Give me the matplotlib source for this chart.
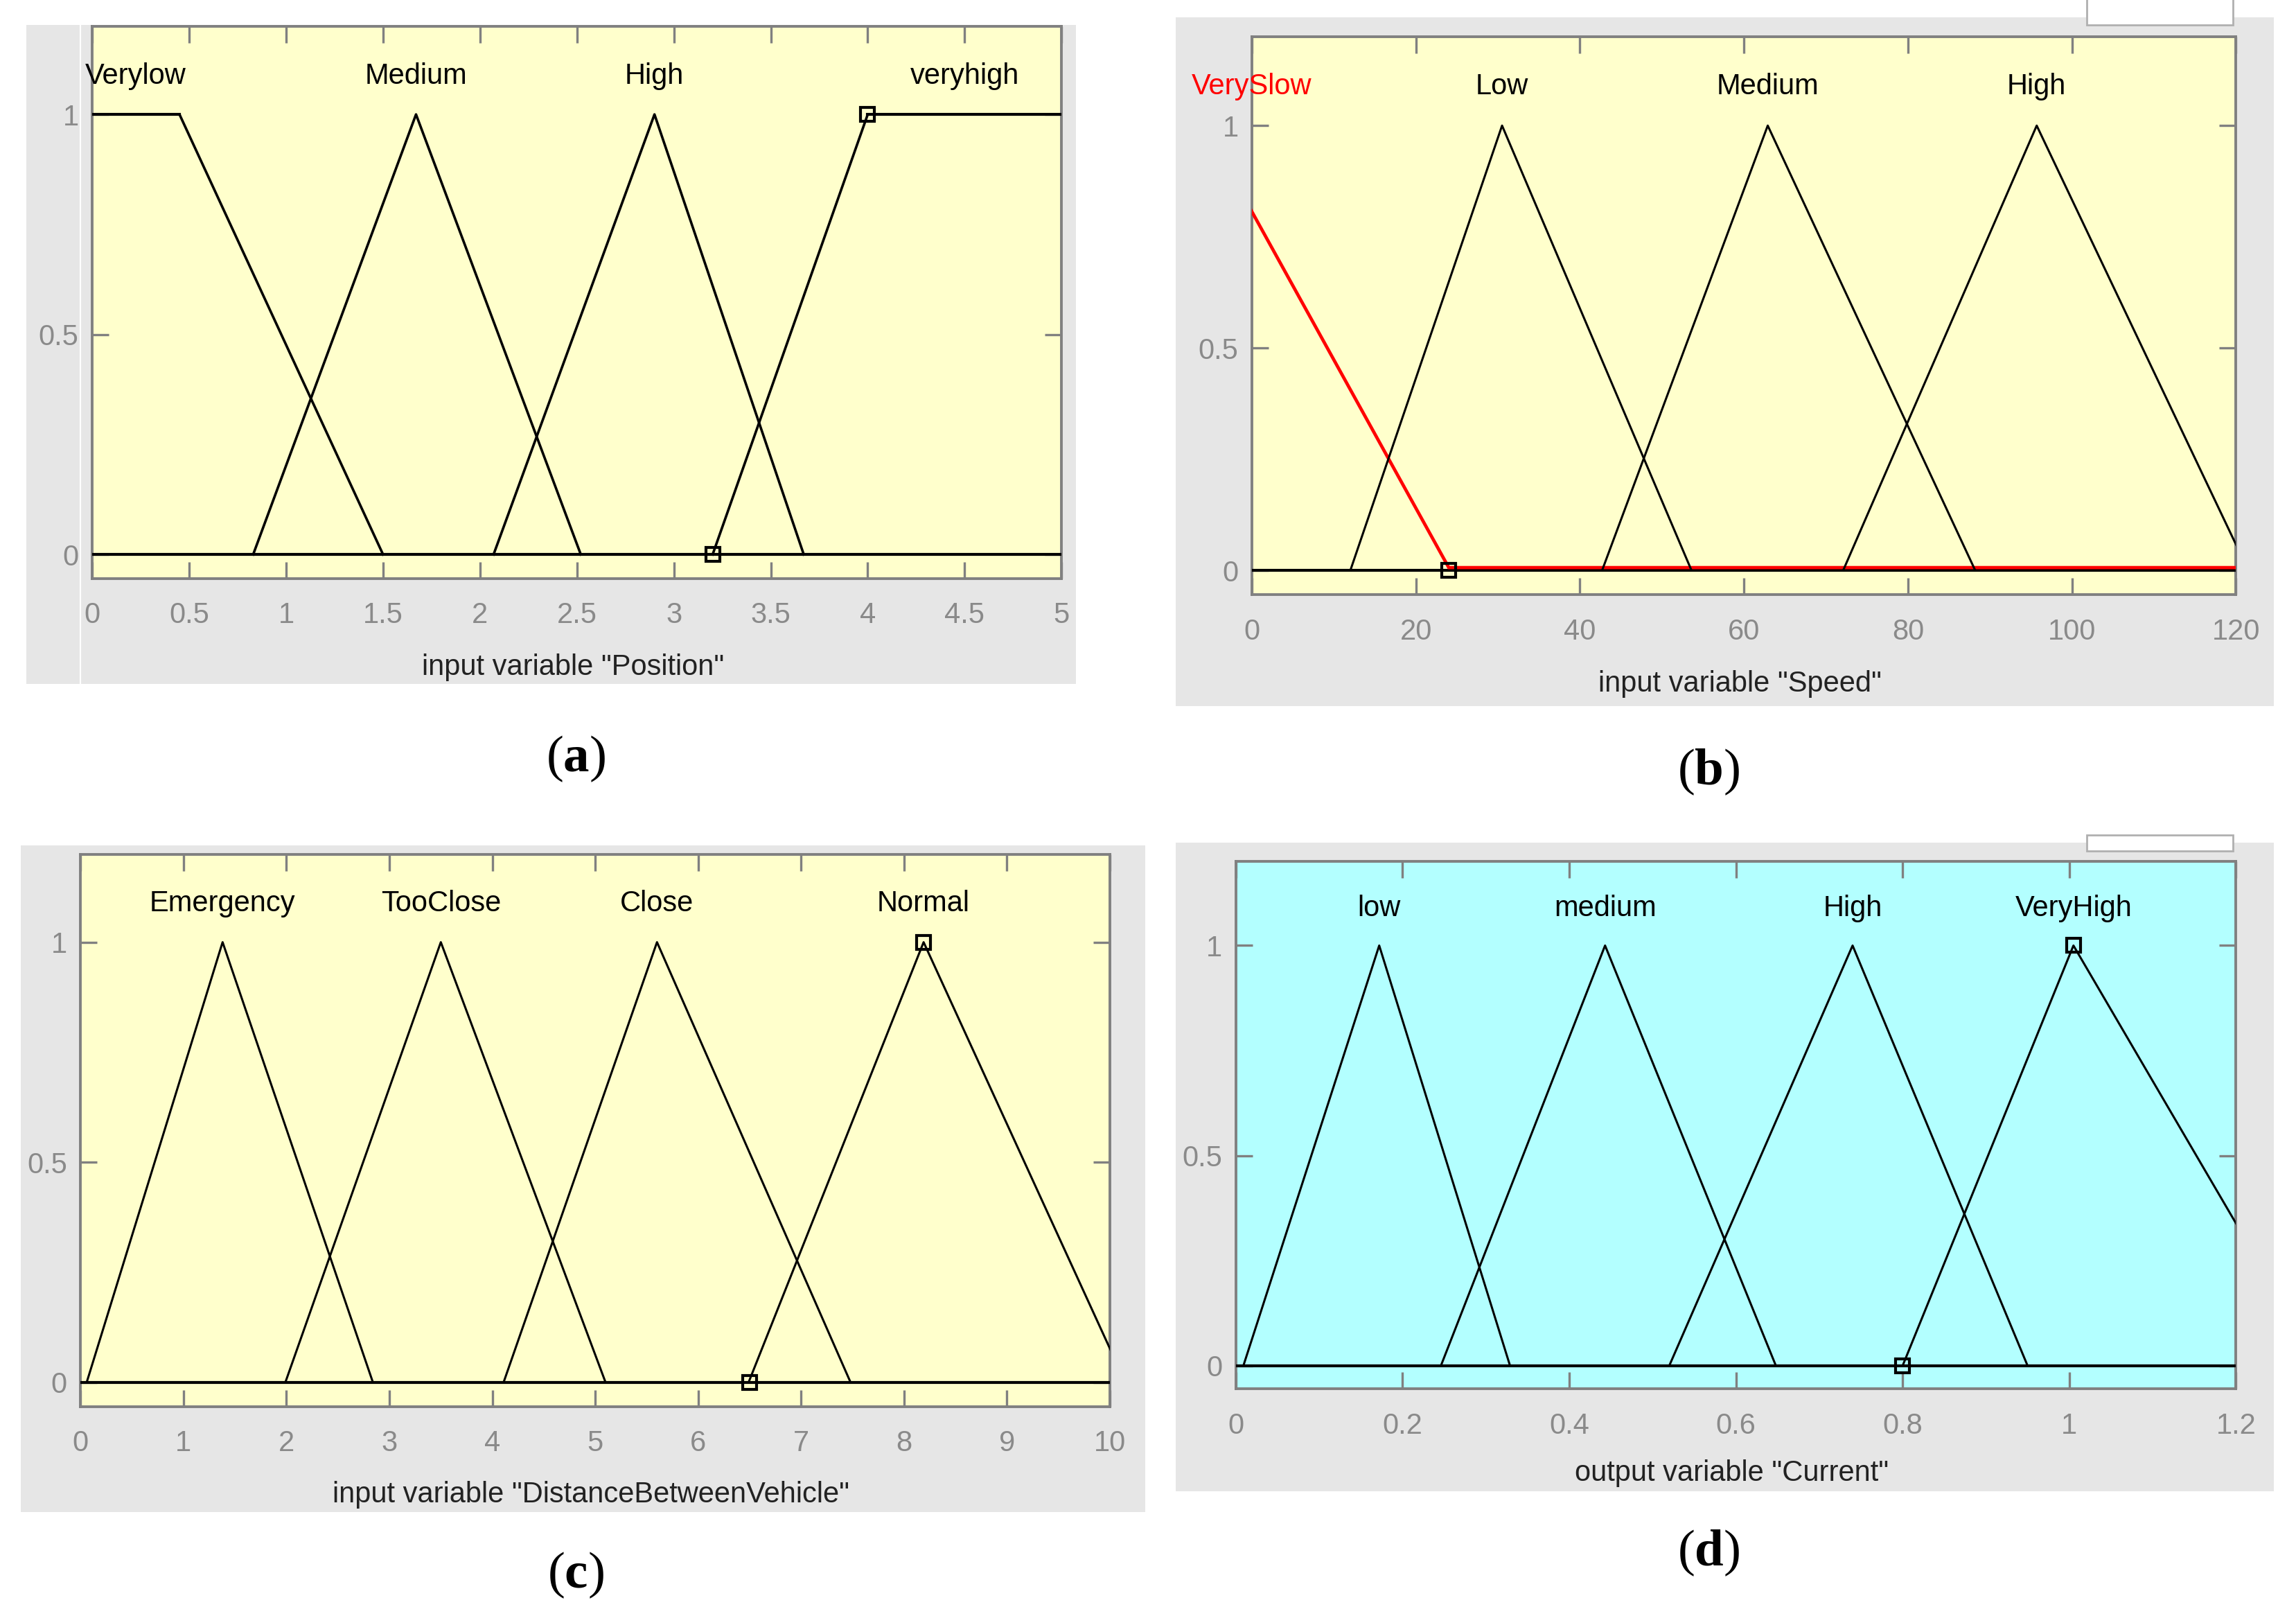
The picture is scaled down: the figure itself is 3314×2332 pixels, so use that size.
import numpy as np
import matplotlib
matplotlib.use("Agg")
import matplotlib.pyplot as plt
from matplotlib.patches import Rectangle
from matplotlib.lines import Line2D
import matplotlib.transforms as mtransforms

plt.rcParams['font.family'] = ['Liberation Sans Narrow', 'Liberation Sans', 'DejaVu Sans']
plt.rcParams['mathtext.fontset'] = 'custom'
plt.rcParams['mathtext.rm'] = 'Liberation Serif'
plt.rcParams['mathtext.bf'] = 'Liberation Serif:bold'

# ---------------- data ----------------
# (a) Position
pos_names = ["Verylow", "Medium", "High", "veryhigh"]
pos_params = [[0.0, 0.0, 0.45, 1.5], [0.83, 1.67, 1.67, 2.52],
              [2.07, 2.9, 2.9, 3.67], [3.2, 4.0, 5.0, 5.0]]
pos_range = [0, 5]
pos_ticks = [0, 0.5, 1, 1.5, 2, 2.5, 3, 3.5, 4, 4.5, 5]
pos_ticklabels = ["0", "0.5", "1", "1.5", "2", "2.5", "3", "3.5", "4", "4.5", "5"]
pos_markers_x = [3.2, 4.0]
pos_markers_y = [0, 1]

# (b) Speed
spd_names = ["VerySlow", "Low", "Medium", "High"]
spd_params = [[-30, -6, -6, 24], [12, 30.5, 30.5, 53.6],
              [42.7, 62.9, 62.9, 88.2], [72.1, 95.7, 95.7, 121.5]]
spd_range = [0, 120]
spd_ticks = [0, 20, 40, 60, 80, 100, 120]
spd_ticklabels = ["0", "20", "40", "60", "80", "100", "120"]
spd_markers_x = [24]
spd_markers_y = [0]

# (c) DistanceBetweenVehicle
dst_names = ["Emergency", "TooClose", "Close", "Normal"]
dst_params = [[0.06, 1.38, 1.38, 2.84], [1.99, 3.5, 3.5, 5.1],
              [4.11, 5.6, 5.6, 7.48], [6.49, 8.19, 8.19, 10.15]]
dst_range = [0, 10]
dst_ticks = list(range(0, 11))
dst_ticklabels = [str(t) for t in dst_ticks]
dst_markers_x = [6.5, 8.19]
dst_markers_y = [0, 1]

# (d) Current
cur_names = ["low", "medium", "High", "VeryHigh"]
cur_params = [[0.009, 0.172, 0.172, 0.329], [0.246, 0.443, 0.443, 0.648],
              [0.52, 0.74, 0.74, 0.95], [0.8, 1.005, 1.005, 1.30]]
cur_range = [0, 1.2]
cur_ticks = [0, 0.2, 0.4, 0.6, 0.8, 1.0, 1.2]
cur_ticklabels = ["0", "0.2", "0.4", "0.6", "0.8", "1", "1.2"]
cur_markers_x = [0.8, 1.005]
cur_markers_y = [0, 1]

y_ticks = [0, 0.5, 1]
y_ticklabels = ["0", "0.5", "1"]

# ---------------- figure ----------------
W, H = 1568.0, 1103.0
fig = plt.figure(figsize=(33.14, 23.32), dpi=100)
fig.patch.set_facecolor('white')

def fx(x):
    return x / W

def fy(y):
    return 1 - y / H

def frect(x0, y0, x1, y1):
    return [fx(x0), fy(y1), fx(x1) - fx(x0), fy(y0) - fy(y1)]

GRAY = '#e6e6e6'
YELLOW = '#ffffcc'
CYAN = '#b3ffff'
AXC = '#808080'

def gray_panel(x0, y0, x1, y1):
    r = frect(x0, y0, x1, y1)
    fig.patches.append(Rectangle((r[0], r[1]), r[2], r[3], transform=fig.transFigure,
                                 facecolor=GRAY, edgecolor='none', zorder=-2))

def white_box(x0, y0, x1, y1):
    r = frect(x0, y0, x1, y1)
    fig.patches.append(Rectangle((r[0], r[1]), r[2], r[3], transform=fig.transFigure,
                                 facecolor='white', edgecolor='#b0b0b0', lw=2, zorder=-1))

panels = [
    dict(gray=(18, 17, 735, 467), ax=(63, 18, 725, 395), names=pos_names, params=pos_params,
         rng=pos_range, ticks=pos_ticks, tl=pos_ticklabels, mx=pos_markers_x, my=pos_markers_y,
         bg=YELLOW, xlabel='input variable "Position"', lw=2.6, lab='a', labpos=(393, 518),
         red=None),
    dict(gray=(803, 12, 1553, 482), ax=(855, 25, 1527, 406), names=spd_names, params=spd_params,
         rng=spd_range, ticks=spd_ticks, tl=spd_ticklabels, mx=spd_markers_x, my=spd_markers_y,
         bg=YELLOW, xlabel='input variable "Speed"', lw=2.2, lab='b', labpos=(1167, 527),
         red=0),
    dict(gray=(14, 577, 782, 1032), ax=(55, 583, 758, 960), names=dst_names, params=dst_params,
         rng=dst_range, ticks=dst_ticks, tl=dst_ticklabels, mx=dst_markers_x, my=dst_markers_y,
         bg=YELLOW, xlabel='input variable "DistanceBetweenVehicle"', lw=2.2, lab='c',
         labpos=(393, 1075), red=None),
    dict(gray=(803, 575, 1553, 1018), ax=(844, 588, 1527, 948), names=cur_names, params=cur_params,
         rng=cur_range, ticks=cur_ticks, tl=cur_ticklabels, mx=cur_markers_x, my=cur_markers_y,
         bg=CYAN, xlabel='output variable "Current"', lw=2.2, lab='d', labpos=(1167, 1060),
         red=None),
]

gray_panel(*panels[0]['gray'])
gray_panel(*panels[1]['gray'])
gray_panel(*panels[2]['gray'])
gray_panel(*panels[3]['gray'])
white_box(1425, -2, 1525, 17)
white_box(1425, 570, 1525, 581)
# thin white seam in panel (a)
fig.lines.append(Line2D([fx(55), fx(55)], [fy(17), fy(467)], transform=fig.transFigure,
                        color='white', lw=1.5, zorder=-1))

FS = 30

for p in panels:
    ax = fig.add_axes(frect(*p['ax']))
    ax.set_zorder(1)
    ax.set_facecolor(p['bg'])
    lo, hi = p['rng']
    ax.set_xlim(lo, hi)
    ax.set_ylim(-0.055, 1.2)
    ax.axhline(0, color='black', lw=3.0, zorder=3)
    for i, (name, prm) in enumerate(zip(p['names'], p['params'])):
        xs = np.array(prm, dtype=float)
        ys = np.array([0, 1, 1, 0], dtype=float)
        if xs[0] == xs[1]:
            ys[0] = 1
        if xs[2] == xs[3]:
            ys[3] = 1
        is_red = (p['red'] == i)
        if is_red:
            xs_full = np.concatenate([xs, [hi]])
            ys_full = np.concatenate([ys, [0]])
            off = mtransforms.offset_copy(ax.transData, fig=fig, x=0, y=4, units='dots')
            ax.plot(xs_full, ys_full, color='red', lw=3.4, zorder=4, transform=off,
                    solid_joinstyle='miter')
        else:
            ax.plot(xs, ys, color='black', lw=p['lw'], zorder=4)
            if xs[0] == xs[1] or xs[2] == xs[3]:
                ax.plot([xs[1], xs[2]], [1, 1], color='black', lw=3.0, zorder=4)
        cx = min(max((xs[1] + xs[2]) / 2.0, lo), hi)
        ax.text(cx, 1.07, name, ha='center', va='baseline', fontsize=FS,
                color='red' if is_red else 'black', clip_on=False, zorder=6)
    ax.plot(p['mx'], p['my'], linestyle='none', marker='s', markersize=14,
            markerfacecolor='none', markeredgecolor='black', markeredgewidth=3, zorder=5)

    ax.set_xticks(p['ticks'])
    ax.set_xticklabels(p['tl'])
    ax.set_yticks(y_ticks)
    ax.set_yticklabels(y_ticklabels)
    ax.tick_params(axis='both', direction='in', length=17, width=2.4, color=AXC,
                   labelcolor='#8a8a8a', labelsize=FS, top=True, right=True)
    ax.tick_params(axis='x', pad=24)
    ax.tick_params(axis='y', pad=14)
    for s in ax.spines.values():
        s.set_color(AXC)
        s.set_linewidth(2.8)
    ax.set_xlabel(p['xlabel'], fontsize=FS, color='#222222')
    ax.xaxis.set_label_coords(0.496, -0.16)
    ax.xaxis.label.set_va('center')

    lx, ly = p['labpos']
    fig.text(fx(lx), fy(ly), r'($\mathbf{' + p['lab'] + r'}$)', ha='center', va='center',
             fontsize=54, family='Liberation Serif', color='black')

fig.savefig('out.png', dpi=100, facecolor='white')
